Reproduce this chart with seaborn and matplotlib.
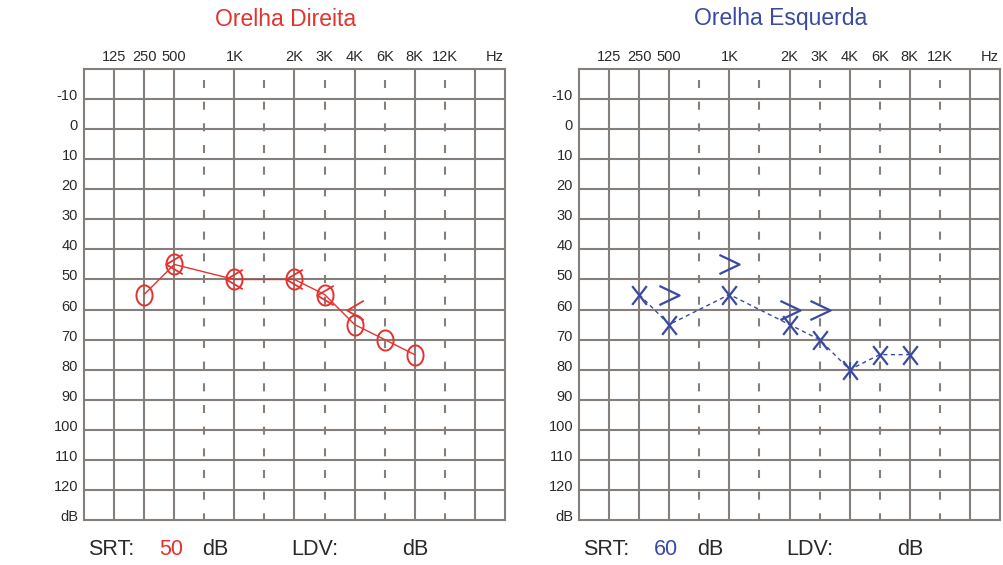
import numpy as np
import pandas as pd
import matplotlib
matplotlib.use("Agg")
import matplotlib.pyplot as plt
from matplotlib.path import Path
from matplotlib.transforms import ScaledTranslation
import seaborn as sns

# ---- audiogram layout data ----
freq_cols = ["125", "250", "500", "750", "1K", "1.5K", "2K", "3K", "4K", "6K", "8K", "12K"]
solid_cols = ["125", "250", "500", "1K", "2K", "4K", "8K"]
dashed_cols = ["750", "1.5K", "3K", "6K", "12K"]
top_labels = ["125", "250", "500", "1K", "2K", "3K", "4K", "6K", "8K", "12K"]
db_levels = [-10, 0, 10, 20, 30, 40, 50, 60, 70, 80, 90, 100, 110, 120]

# ---- right ear (Orelha Direita) ----
right_air_freq = ["250", "500", "1K", "2K", "3K", "4K", "6K", "8K"]
right_air_db = [55, 45, 50, 50, 55, 65, 70, 75]
right_bone_freq = ["500", "1K", "2K", "3K", "4K"]
right_bone_db = [45, 50, 50, 55, 60]
right_srt = 50

# ---- left ear (Orelha Esquerda) ----
left_air_freq = ["250", "500", "1K", "2K", "3K", "4K", "6K", "8K"]
left_air_db = [55, 65, 55, 65, 70, 80, 75, 75]
left_bone_freq = ["500", "1K", "2K", "3K"]
left_bone_db = [55, 45, 60, 60]
left_mark_freq = ["4K"]
left_mark_db = [80]
left_srt = 60

RED = "#e5322f"
BLUE = "#3a4aa2"
GRID = "#857f7b"
TEXT = "#2a2a2a"

sns.set_theme(style="white")
plt.rcParams["font.family"] = ["Liberation Sans", "DejaVu Sans"]
plt.rcParams["lines.scale_dashes"] = False


def col(f):
    return freq_cols.index(f) + 1


# marker shapes
t = np.linspace(0, 2 * np.pi, 64)
ellipse = Path(np.column_stack([0.8 * np.cos(t), np.sin(t)]), closed=True)
lt_mark = Path([(0.85, 1), (-0.85, 0), (0.85, -1)], [Path.MOVETO, Path.LINETO, Path.LINETO])
gt_mark = Path([(-1.0, 0.95), (1.0, 0), (-1.0, -0.95)], [Path.MOVETO, Path.LINETO, Path.LINETO])
x_mark = Path([(-0.78, -1), (0.78, 1), (-0.78, 1), (0.78, -1)],
              [Path.MOVETO, Path.LINETO, Path.MOVETO, Path.LINETO])
bar_mark = Path([(0, -1), (0, 1)], [Path.MOVETO, Path.LINETO])

W, H = 1004, 565
fig = plt.figure(figsize=(W / 100, H / 100), dpi=100)
fig.patch.set_facecolor("white")

ax_r = fig.add_axes([84 / W, 45 / H, 421 / W, 451 / H])
ax_l = fig.add_axes([579 / W, 45 / H, 421 / W, 451 / H])


def draw_grid(ax):
    ax.set_xlim(0, 14)
    ax.set_ylim(130, -20)
    ax.set_facecolor("white")
    ax.hlines(db_levels, 0, 14, color=GRID, lw=1.5, zorder=1)
    ax.vlines([col(f) for f in solid_cols] + [13], -20, 130, color=GRID, lw=1.5, zorder=1)
    ax.vlines([col(f) for f in dashed_cols], -20, 130, color=GRID, lw=1.5,
              linestyles=[(7.7, (5.8, 9.8))], zorder=1)
    for s in ax.spines.values():
        s.set_color(GRID)
        s.set_linewidth(1.5)
        s.set_visible(True)
    ax.xaxis.tick_top()
    ax.set_xticks([col(f) for f in top_labels] + [13.65])
    ax.set_xticklabels(top_labels + ["Hz"])
    ax.set_yticks(db_levels + [130])
    ax.set_yticklabels([str(v) for v in db_levels] + ["dB"])
    ax.tick_params(axis="x", length=0, pad=3.5, labelsize=10.5, labelcolor=TEXT)
    ax.tick_params(axis="y", length=0, pad=4.3, labelsize=10.5, labelcolor=TEXT)
    shift = ScaledTranslation(0, 0.045, fig.dpi_scale_trans)
    for lab in ax.get_yticklabels():
        lab.set_transform(lab.get_transform() + shift)
    ax.set_xlabel("")
    ax.set_ylabel("")


def footer(ax, srt, color):
    y = -0.066
    kw = dict(transform=ax.transAxes, va="center", fontsize=15.5)
    ax.text(0.0095, y, "SRT:", ha="left", color=TEXT, **kw)
    ax.text(0.207, y, str(srt), ha="center", color=color, **kw)
    ax.text(0.3125, y, "dB", ha="center", color=TEXT, **kw)
    ax.text(0.549, y, "LDV:", ha="center", color=TEXT, **kw)
    ax.text(0.786, y, "dB", ha="center", color=TEXT, **kw)


draw_grid(ax_r)
draw_grid(ax_l)

# right ear: air conduction (O, solid line) and bone conduction (<)
r_air = pd.DataFrame({"x": [col(f) for f in right_air_freq], "db": right_air_db})
r_bone = pd.DataFrame({"x": [col(f) for f in right_bone_freq], "db": right_bone_db})
sns.lineplot(data=r_air, x="x", y="db", ax=ax_r, color=RED, lw=1.0, zorder=3)
sns.lineplot(data=r_air, x="x", y="db", ax=ax_r, color=RED, linestyle="none",
             marker=ellipse, markersize=14.5, markerfacecolor="none",
             markeredgecolor=RED, markeredgewidth=1.4, zorder=4)
sns.lineplot(data=r_bone, x="x", y="db", ax=ax_r, color=RED, linestyle="none",
             marker=lt_mark, markersize=14, markerfacecolor="none",
             markeredgecolor=RED, markeredgewidth=1.3, zorder=4)

# left ear: air conduction (X, dashed line) and bone conduction (>)
l_air = pd.DataFrame({"x": [col(f) for f in left_air_freq], "db": left_air_db})
l_bone = pd.DataFrame({"x": [col(f) for f in left_bone_freq], "db": left_bone_db})
l_mark = pd.DataFrame({"x": [col(f) for f in left_mark_freq], "db": left_mark_db})
sns.lineplot(data=l_air, x="x", y="db", ax=ax_l, color=BLUE, lw=1.0,
             dashes=False, linestyle=(0, (3.0, 2.5)), zorder=3)
sns.lineplot(data=l_air, x="x", y="db", ax=ax_l, color=BLUE, linestyle="none",
             marker=x_mark, markersize=13.5, markerfacecolor="none",
             markeredgecolor=BLUE, markeredgewidth=1.6, zorder=4)
sns.lineplot(data=l_mark, x="x", y="db", ax=ax_l, color=BLUE, linestyle="none",
             marker=bar_mark, markersize=12, markerfacecolor="none",
             markeredgecolor=BLUE, markeredgewidth=1.4, zorder=4)
sns.lineplot(data=l_bone, x="x", y="db", ax=ax_l, color=BLUE, linestyle="none",
             marker=gt_mark, markersize=14.5, markerfacecolor="none",
             markeredgecolor=BLUE, markeredgewidth=1.6, zorder=4)

for ax in (ax_r, ax_l):
    ax.set_xlim(0, 14)
    ax.set_ylim(130, -20)
    ax.set_xlabel("")
    ax.set_ylabel("")
    leg = ax.get_legend()
    if leg is not None:
        leg.remove()

footer(ax_r, right_srt, RED)
footer(ax_l, left_srt, BLUE)

fig.text(286 / W, 1 - 19 / H, "Orelha Direita", ha="center", va="center",
         fontsize=16.5, color=RED)
fig.text(781 / W, 1 - 19 / H, "Orelha Esquerda", ha="center", va="center",
         fontsize=16.5, color=BLUE)

fig.savefig("out.png", dpi=100, facecolor="white")
